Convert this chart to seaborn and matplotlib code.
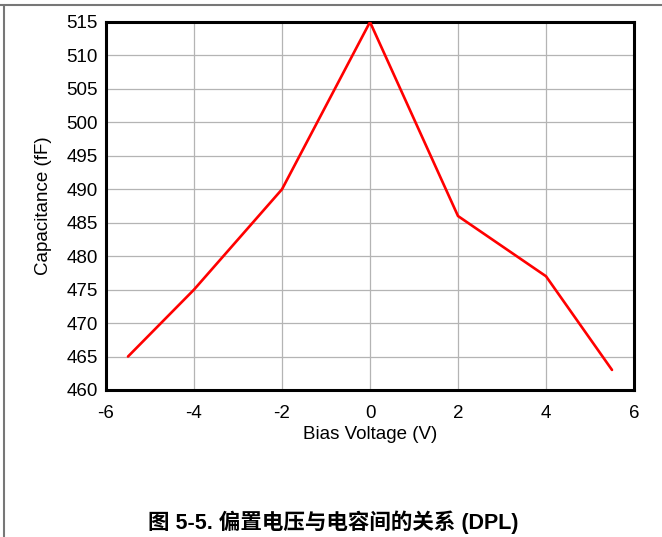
import pandas as pd
import matplotlib
matplotlib.use("Agg")
import matplotlib.pyplot as plt
import seaborn as sns
from matplotlib.lines import Line2D

# data
bias_voltage = [-5.5, -4, -2, 0, 2, 4, 5.5]
capacitance = [465, 475, 490, 515, 486, 477, 463]
x_ticks = [-6, -4, -2, 0, 2, 4, 6]
y_ticks = [460, 465, 470, 475, 480, 485, 490, 495, 500, 505, 510, 515]

df = pd.DataFrame({"Bias Voltage (V)": bias_voltage, "Capacitance (fF)": capacitance})

sns.set_style("white")
plt.rcParams['font.family'] = ['Liberation Sans', 'Noto Sans CJK SC', 'DejaVu Sans']
plt.rcParams['text.color'] = 'black'
plt.rcParams['axes.labelcolor'] = 'black'
plt.rcParams['xtick.color'] = 'black'
plt.rcParams['ytick.color'] = 'black'

fig = plt.figure(figsize=(6.62, 5.37), dpi=100)
ax = fig.add_axes([106/662, 1 - 390/537, 528/662, 368/537])

sns.lineplot(data=df, x="Bias Voltage (V)", y="Capacitance (fF)", ax=ax,
             color="#ff0000", linewidth=1.9, zorder=3)

ax.set_xlim(-6, 6)
ax.set_ylim(460, 515)
ax.set_xticks(x_ticks)
ax.set_yticks(y_ticks)
ax.set_xticklabels([str(t) for t in x_ticks])
ax.grid(True, color="#b4b4b4", linewidth=0.9)
ax.tick_params(axis="x", length=0, labelsize=13.5, pad=11)
ax.tick_params(axis="y", length=0, labelsize=13.5, pad=6)
ax.set_xlabel("Bias Voltage (V)", fontsize=13.5, labelpad=3)
ax.set_ylabel("Capacitance (fF)", fontsize=13.5, labelpad=10)
for s in ax.spines.values():
    s.set_color("black")
    s.set_linewidth(2.2)

# outer frame pieces (top and left)
fig.add_artist(Line2D([0, 1], [1 - 5/537, 1 - 5/537], transform=fig.transFigure, color="#777777", linewidth=1.5))
fig.add_artist(Line2D([4/662, 4/662], [0, 1 - 5/537], transform=fig.transFigure, color="#777777", linewidth=1.5))

fig.text(333/662, 1 - 522/537, "图 5-5. 偏置电压与电容间的关系 (DPL)", ha="center", va="center",
         fontsize=15.5, fontweight="bold", family=['Liberation Sans', 'Noto Sans CJK SC'])

fig.savefig("out.png", dpi=100)
